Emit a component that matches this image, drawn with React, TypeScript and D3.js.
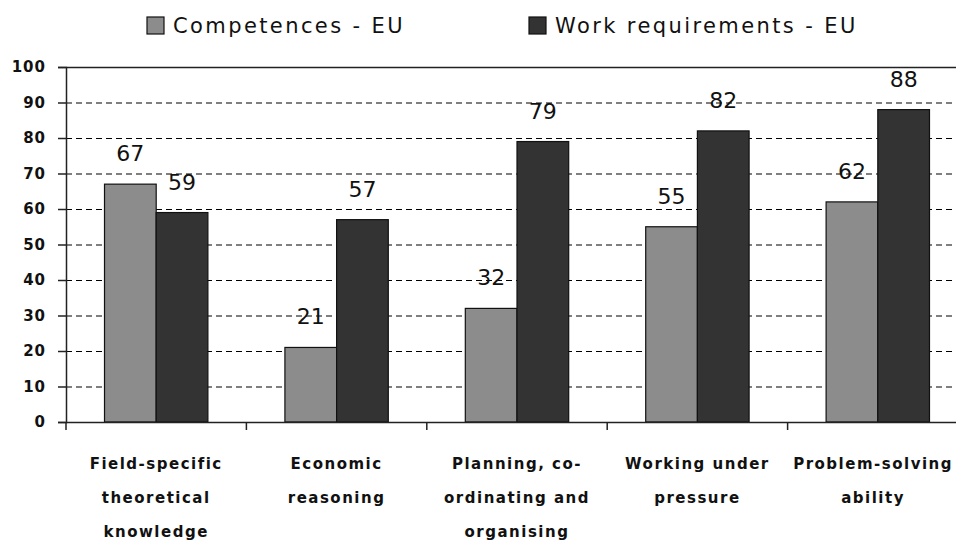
import React, { useRef, useEffect } from 'react'
import * as d3 from 'd3'

const categories = [
  ['Field-specific', 'theoretical', 'knowledge'],
  ['Economic', 'reasoning'],
  ['Planning, co-', 'ordinating and', 'organising'],
  ['Working under', 'pressure'],
  ['Problem-solving', 'ability'],
]
const seriesNames = ['Competences - EU', 'Work requirements - EU']
const competences = [67, 21, 32, 55, 62]
const workRequirements = [59, 57, 79, 82, 88]
const yTicks = [0, 10, 20, 30, 40, 50, 60, 70, 80, 90, 100]
const colors = ['#8c8c8c', '#333333']

const FONT = '"Comic Sans MS", "DejaVu Sans", sans-serif'

export default function App() {
  const ref = useRef<SVGSVGElement>(null)

  useEffect(() => {
    const svg = d3.select(ref.current)
    svg.selectAll('*').remove()

    const width = 956, height = 540
    const margin = { top: 67, left: 66, bottom: 118 }
    const plotRight = 968

    const keys = categories.map((_, i) => String(i))
    const x = d3.scaleBand().domain(keys).range([margin.left, plotRight]).paddingInner(0).paddingOuter(0)
    const sub = d3.scaleBand().domain(['0', '1']).range([0, x.bandwidth()]).paddingOuter(0.745).paddingInner(0)
    const y = d3.scaleLinear().domain([0, 100]).range([height - margin.bottom, margin.top])

    // gridlines
    svg.append('g').selectAll('line').data(yTicks.filter(t => t > 0 && t < 100)).join('line')
      .attr('x1', margin.left).attr('x2', width)
      .attr('y1', d => y(d) + 0.5).attr('y2', d => y(d) + 0.5)
      .attr('stroke', '#000').attr('stroke-width', 1.2).attr('stroke-dasharray', '6,4')

    // top border
    svg.append('line').attr('x1', margin.left).attr('x2', width)
      .attr('y1', y(100) + 0.5).attr('y2', y(100) + 0.5).attr('stroke', '#222').attr('stroke-width', 1.5)

    // bars
    const rows = categories.map((_, i) => [competences[i], workRequirements[i]])
    const groups = svg.append('g').selectAll('g').data(rows).join('g')
      .attr('transform', (_, i) => `translate(${x(String(i))},0)`)
    groups.selectAll('rect').data(d => d).join('rect')
      .attr('x', (_, j) => sub(String(j))!)
      .attr('y', d => y(d))
      .attr('width', sub.bandwidth())
      .attr('height', d => y(0) - y(d))
      .attr('fill', (_, j) => colors[j])
      .attr('stroke', '#111').attr('stroke-width', 1.2)
    groups.selectAll('text').data(d => d).join('text')
      .attr('x', (_, j) => sub(String(j))! + sub.bandwidth() / 2)
      .attr('y', d => y(d) - 23)
      .attr('text-anchor', 'middle')
      .attr('font-family', FONT).attr('font-size', 22).attr('fill', '#111')
      .text(d => d)

    // y axis
    const yAxis = svg.append('g').attr('transform', `translate(${margin.left},0)`)
      .call(d3.axisLeft(y).tickValues(yTicks).tickSize(8).tickPadding(12))
    yAxis.select('.domain').attr('stroke', '#222').attr('stroke-width', 1.5)
    yAxis.selectAll('.tick line').attr('stroke', '#222').attr('stroke-width', 1.5)
    yAxis.selectAll('text').attr('font-family', FONT).attr('font-weight', 'bold')
      .attr('font-size', 15).attr('letter-spacing', 1).attr('fill', '#111')

    // x axis
    const base = y(0)
    svg.append('line').attr('x1', margin.left).attr('x2', width)
      .attr('y1', base + 0.5).attr('y2', base + 0.5).attr('stroke', '#222').attr('stroke-width', 1.5)
    svg.append('g').selectAll('line').data(keys).join('line')
      .attr('x1', d => x(d)!).attr('x2', d => x(d)!)
      .attr('y1', base).attr('y2', base + 8)
      .attr('stroke', '#222').attr('stroke-width', 1.5)
    const labels = svg.append('g').selectAll('text').data(categories).join('text')
      .attr('y', base + 47)
      .attr('text-anchor', 'middle')
      .attr('font-family', FONT).attr('font-weight', 'bold').attr('font-size', 15)
      .attr('letter-spacing', 1.5).attr('fill', '#111')
    labels.selectAll('tspan').data(d => d).join('tspan')
      .attr('dy', (_, k) => (k === 0 ? 0 : 34))
      .text(d => d)
    // centre on the band, but keep the widest line inside the picture
    labels.each(function (_, i) {
      const el = d3.select(this as SVGTextElement)
      const cx = x(String(i))! + x.bandwidth() / 2
      el.attr('x', cx).selectAll('tspan').attr('x', cx)
      const w = (this as SVGTextElement).getBBox().width
      if (cx + w / 2 > width - 3) {
        const nx = width - 3 - w / 2
        el.attr('x', nx).selectAll('tspan').attr('x', nx)
      }
    })

    // legend
    const legendX = [147, 529]
    const legend = svg.append('g').selectAll('g').data(seriesNames).join('g')
      .attr('transform', (_, i) => `translate(${legendX[i]},17)`)
    legend.append('rect').attr('width', 17).attr('height', 17)
      .attr('fill', (_, i) => colors[i]).attr('stroke', '#111').attr('stroke-width', 1.2)
    legend.append('text').attr('x', 26).attr('y', 16)
      .attr('font-family', FONT).attr('font-size', 21).attr('letter-spacing', 2.4).attr('fill', '#111')
      .text(d => d)
  }, [])

  return <svg ref={ref} width={956} height={540} style={{ position: 'absolute', left: 0, top: 0, background: '#fff' }} />
}
